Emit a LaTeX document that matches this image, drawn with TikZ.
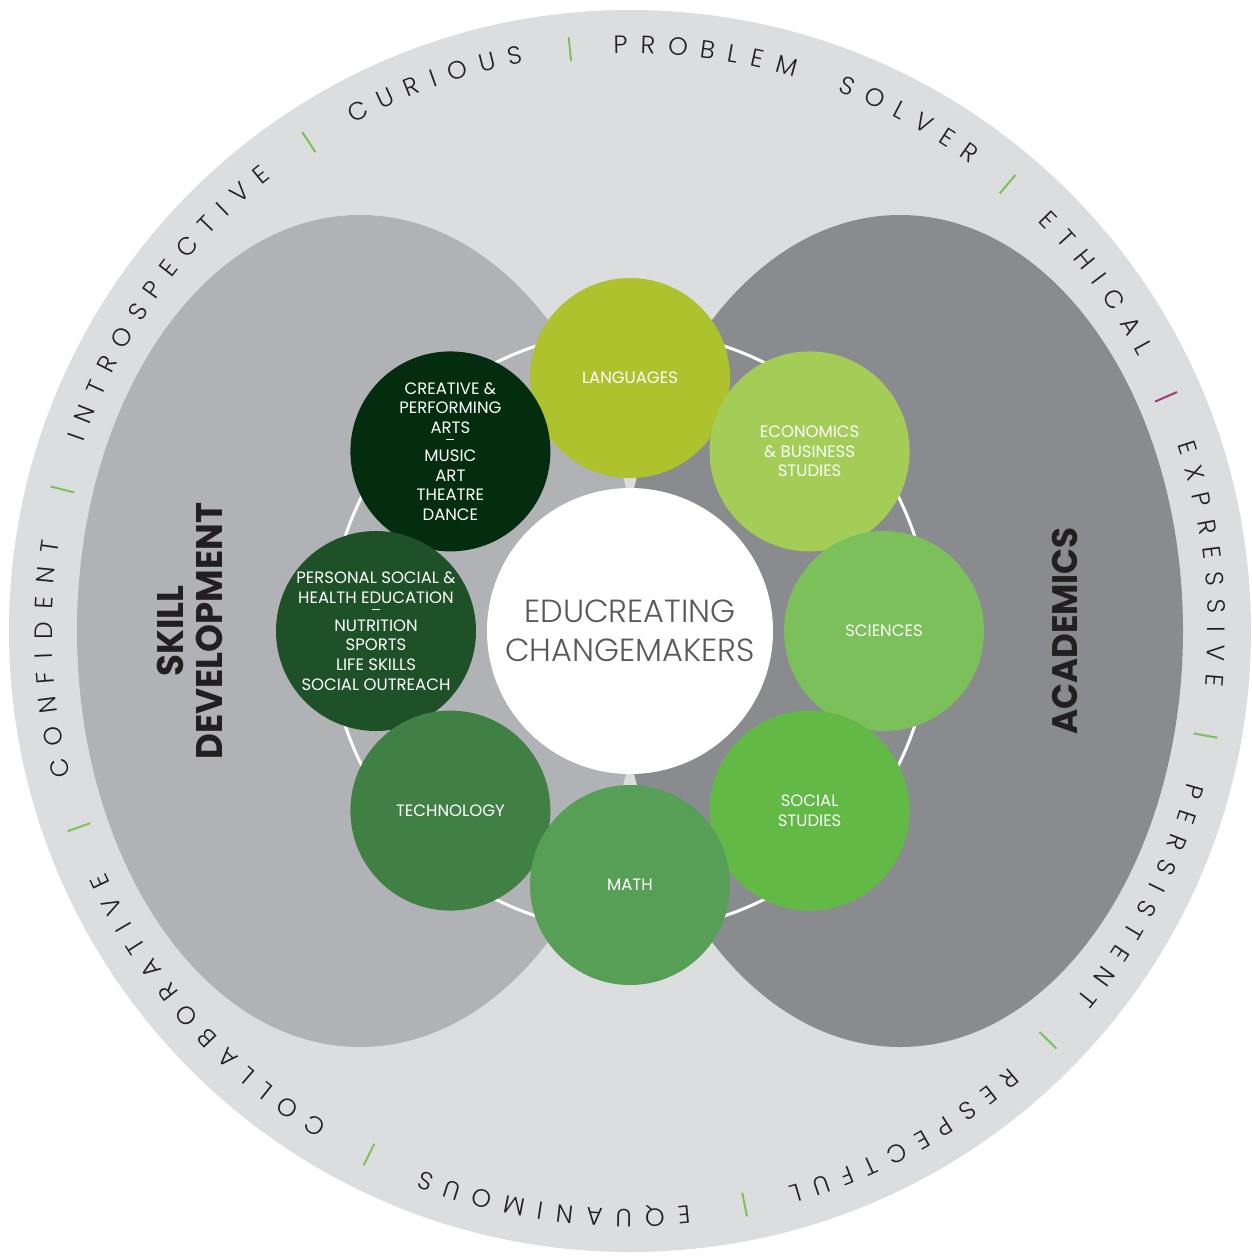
\documentclass[tikz,border=0pt]{standalone}
\usepackage{fontspec}
\setmainfont{Poppins}
\IfFontExistsTF{Poppins Light}{\newfontfamily\ringfont{Poppins Light}}{\newfontfamily\ringfont{Poppins}}
\newfontfamily\circfont{Poppins}
\IfFontExistsTF{Poppins Light}{\newfontfamily\centfont{Poppins Light}}{\newfontfamily\centfont{Poppins}}
\newfontfamily\headfont{Poppins}[FakeStretch=0.96]
\definecolor{ringgrey}{HTML}{DCDDDF}
\definecolor{lgrey}{HTML}{B1B2B5}
\definecolor{dgrey}{HTML}{8A8B8F}
\definecolor{clang}{HTML}{ADC22C}
\definecolor{cecon}{HTML}{A3CD56}
\definecolor{csci}{HTML}{7BC05A}
\definecolor{csoc}{HTML}{62B946}
\definecolor{cmath}{HTML}{579F56}
\definecolor{ctech}{HTML}{418045}
\definecolor{cpers}{HTML}{1F5129}
\definecolor{ccrea}{HTML}{032D0E}
\definecolor{sepgreen}{HTML}{7AC35A}
\definecolor{seppurple}{HTML}{9B3F7A}
\definecolor{inktext}{HTML}{231F20}
\definecolor{centertext}{HTML}{58595B}
\newcommand\rr{578}
\newcommand\ra{587}
\newcommand\track{13}
\newcommand\ringsel{\ringfont\fontsize{25}{30}\selectfont}
\makeatletter
\newcommand\rwmeasure[1]{%
  \setbox0=\hbox{\ringsel #1}%
  \expandafter\xdef\csname rwW#1\endcsname{\strip@pt\wd0}}
\makeatother
\newcommand\ringword[3]{%
  \xdef\rwtot{0}%
  \foreach \ch in {#2}{%
    \pgfmathsetmacro\tmp{\rwtot+\csname rwW\ch\endcsname+\track}%
    \xdef\rwtot{\tmp}%
  }%
  \pgfmathsetmacro\rwst{#1-(\rwtot-\track)/\ra*90/pi}%
  \xdef\rwstart{\rwst}%
  \xdef\rwpos{0}%
  \foreach \ch [count=\i] in {#2}{%
    \pgfmathsetmacro\cw{\csname rwW\ch\endcsname}%
    \pgfmathsetmacro\ang{\rwstart+(\rwpos+\cw/2)/\ra*180/pi}%
    \node[ringtxt,rotate=-\ang] (#3-\i) at ({630+\rr*sin(\ang)},{631-\rr*cos(\ang)}) {\ch};
    \pgfmathsetmacro\tmp{\rwpos+\cw+\track}%
    \xdef\rwpos{\tmp}%
  }%
}
\begin{document}
\rwmeasure{A}\rwmeasure{B}\rwmeasure{C}\rwmeasure{D}\rwmeasure{E}\rwmeasure{F}%
\rwmeasure{H}\rwmeasure{I}\rwmeasure{L}\rwmeasure{M}\rwmeasure{N}\rwmeasure{O}%
\rwmeasure{P}\rwmeasure{Q}\rwmeasure{R}\rwmeasure{S}\rwmeasure{T}\rwmeasure{U}%
\rwmeasure{V}\rwmeasure{X}%
\begin{tikzpicture}[x=1pt,y=-1pt,
  ringtxt/.style={anchor=base, inner sep=0pt, text=inktext, font=\ringsel},
  sepline/.style={line width=2pt},
  circ/.style={circle, minimum size=200pt, inner sep=0pt, text=white, align=center,
    font=\circfont\fontsize{16.5}{19.6}\selectfont},
  head/.style={inner sep=0pt, align=center, text=inktext,
    font=\headfont\bfseries\fontsize{37}{39}\selectfont}]
\useasboundingbox (0,0) rectangle (1252,1256);
\fill[ringgrey] (630,631) circle[radius=621];
\fill[lgrey] (360,631) ellipse[x radius=283, y radius=416];
\fill[dgrey] (900,631) ellipse[x radius=283, y radius=416];
\draw[white, line width=3pt] (630,631) circle[radius=300];
% separators
\foreach \a/\sc in {-33.3/sepgreen, -5.9/sepgreen, 40.2/sepgreen, 66.4/seppurple,
  100.3/sepgreen, 134.4/sepgreen, 168.7/sepgreen, 206.5/sepgreen, 250.4/sepgreen, 284/sepgreen}
  \draw[sepline, draw=\sc] ({630+573*sin(\a)},{631-573*cos(\a)}) -- ({630+597*sin(\a)},{631-597*cos(\a)});
% ring words
\ringword{-54.65}{I,N,T,R,O,S,P,E,C,T,I,V,E}{introspective}
\ringword{-19.6}{C,U,R,I,O,U,S}{curious}
\ringword{7.45}{P,R,O,B,L,E,M}{problem}
\ringword{28.55}{S,O,L,V,E,R}{solver}
\ringword{53.3}{E,T,H,I,C,A,L}{ethical}
\ringword{83.35}{E,X,P,R,E,S,S,I,V,E}{expressive}
\ringword{117.35}{P,E,R,S,I,S,T,E,N,T}{persistent}
\ringword{151.55}{R,E,S,P,E,C,T,F,U,L}{respectful}
\ringword{187.6}{E,Q,U,A,N,I,M,O,U,S}{equanimous}
\ringword{228.45}{C,O,L,L,A,B,O,R,A,T,I,V,E}{collaborative}
\ringword{267.2}{C,O,N,F,I,D,E,N,T}{confident}
% labels
\node[head, rotate=90] (skill) at (190,631) {SKILL\\DEVELOPMENT};
\node[head, rotate=90, font=\headfont\bfseries\fontsize{35.5}{39}\selectfont] (acad) at (1064.5,631) {ACADEMICS};
% circles
\node[circ, fill=clang] (lang) at (630,378) {LANGUAGES};
\node[circ, fill=cecon] (econ) at (809.6,451.4) {ECONOMICS\\\& BUSINESS\\STUDIES};
\node[circ, fill=ccrea] (crea) at (450.4,451.4) {CREATIVE \&\\PERFORMING\\ARTS\\[-9.1pt]\rule[3.5pt]{8pt}{1.3pt}\\[-2.1pt]MUSIC\\ART\\THEATRE\\DANCE};
\node[circ, fill=csci] (sci) at (884,631) {SCIENCES};
\node[circ, fill=cpers] (pers) at (376,631) {PERSONAL SOCIAL \&\\HEALTH EDUCATION\\[-9.1pt]\rule[3.5pt]{8pt}{1.3pt}\\[-2.1pt]NUTRITION\\SPORTS\\LIFE SKILLS\\SOCIAL OUTREACH};
\node[circ, fill=csoc] (soc) at (809.6,810.6) {SOCIAL\\STUDIES};
\node[circ, fill=ctech] (tech) at (450.4,810.6) {TECHNOLOGY};
\node[circ, fill=cmath] (math) at (630,885) {MATH};
% centre
\node[circle, fill=white, minimum size=286pt, inner sep=0pt, align=center, text=centertext,
  font=\centfont\fontsize{32}{39}\selectfont] (centre) at (630,631) {EDUCREATING\\CHANGEMAKERS};
\end{tikzpicture}
\end{document}
